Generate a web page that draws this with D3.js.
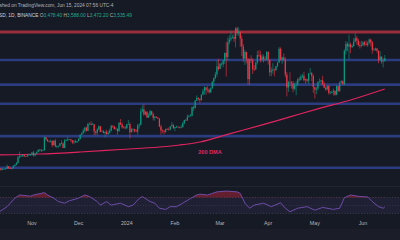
<!DOCTYPE html>
<html><head><meta charset="utf-8">
<script src="https://cdn.jsdelivr.net/npm/d3@7"></script>
<style>html,body{margin:0;padding:0;background:#161a25;overflow:hidden}svg{display:block}</style>
</head><body><svg id="c" width="400" height="240"></svg>
<script>
// ---- DATA (ETH/USDT daily, from 2023-10-11) ----
const startDate = "2023-10-11";
const firstOpen = 1580;
const closes = [
 1566,1539,1552,1555,1558,1600,1566,1564,1567,1605,1629,1662,1762,1785,1788,1805,1780,1777,1798,1810,1815,
 1847,1796,1832,1860,1893,1899,1885,1888,2121,2078,2052,2045,2055,1980,2058,1960,1962,1963,2012,2010,1930,2063,2063,2081,2083,2064,2029,2047,2028,2051,
 2088,2165,2193,2241,2292,2233,2358,2360,2343,2353,2225,2201,2260,2316,2219,2228,2196,2218,2177,2201,2240,2326,2311,2266,2272,2228,2378,2347,2299,2292,2281,
 2352,2356,2209,2267,2268,2240,2221,2331,2344,2584,2618,2525,2577,2472,2510,2587,2529,2468,2489,2471,2453,2311,2243,2236,2218,2268,2266,2258,2317,2343,2283,
 2304,2309,2297,2290,2299,2372,2427,2421,2485,2500,2507,2658,2642,2777,2824,2803,2786,2881,2944,3013,2966,2970,2922,2993,3112,3178,3243,3385,3340,
 3433,3422,3489,3627,3553,3817,3868,3897,3910,3878,4066,3980,4004,3882,3740,3524,3645,3520,3158,3516,3495,3334,3331,3454,3590,3587,3500,3561,3510,3508,3647,
 3504,3280,3310,3330,3320,3390,3454,3700,3505,3545,3505,3240,3010,3105,3100,3085,2985,3060,3060,3155,3147,3200,3220,3140,3155,3130,3255,3265,3215,3015,
 2970,2990,3105,3115,3137,3065,3005,2975,3035,2910,2913,2930,2950,2880,3035,2945,3095,3120,3070,3665,3790,3740,3780,3730,3750,3830,3890,3845,3765,3750,3760,
 3815,3780,3767,3810,3865,3812,3680,3683,3706,3665,3500,3560,3470,3478,3535
];
const highs = [
 1580,1568,1570,1565,1569,1633,1605,1586,1578,1622,1640,1680,1790,1865,1808,1815,1812,1790,1815,1824,1818,
 1860,1880,1835,1865,1910,1910,1908,1900,2133,2130,2090,2062,2080,2065,2070,2090,1980,1968,2015,2066,2030,2090,2088,2133,2093,2093,2070,2070,2077,2056,
 2108,2170,2208,2275,2307,2310,2380,2387,2403,2380,2355,2240,2284,2333,2320,2260,2246,2222,2256,2237,2275,2342,2330,2325,2298,2280,2393,2445,2386,2320,2322,
 2353,2432,2388,2293,2278,2275,2262,2358,2370,2643,2690,2717,2594,2580,2550,2614,2592,2560,2495,2493,2480,2462,2345,2260,2243,2275,2285,2295,2322,2393,2352,
 2308,2330,2320,2310,2340,2394,2433,2450,2530,2520,2537,2670,2688,2785,2867,2835,2812,2887,2985,3030,3014,3034,2995,3010,3125,3188,3288,3490,3520,
 3450,3455,3500,3630,3823,3900,3940,4015,3950,3965,4085,4093,4083,4010,3935,3780,3680,3615,3545,3526,3585,3535,3410,3470,3665,3675,3665,3610,3597,3565,3655,
 3650,3505,3365,3445,3345,3398,3465,3730,3725,3560,3615,3555,3285,3128,3280,3125,3125,3095,3125,3180,3200,3240,3255,3290,3170,3165,3270,3355,3285,3240,
 3025,3015,3125,3170,3145,3220,3110,3025,3055,3050,2945,2955,2990,2955,3045,3040,3120,3145,3135,3690,3840,3815,3950,3810,3780,3890,3977,3930,3880,3825,3845,
 3835,3840,3850,3832,3887,3880,3840,3718,3720,3710,3670,3660,3565,3525,3588
];
const lows = [
 1545,1521,1535,1544,1548,1555,1555,1553,1545,1560,1598,1620,1650,1745,1765,1765,1770,1770,1771,1784,1787,
 1790,1775,1778,1822,1852,1870,1855,1870,1882,2060,2035,2025,2028,1945,1975,1940,1930,1935,1958,1995,1930,1935,2050,2057,2075,2040,1997,2003,2022,2024,
 2048,2082,2160,2182,2201,2223,2230,2345,2336,2340,2160,2157,2154,2240,2208,2215,2190,2120,2166,2160,2184,2226,2284,2260,2260,2165,2222,2336,2275,2275,2266,
 2263,2345,2100,2205,2210,2205,2216,2165,2275,2330,2562,2505,2515,2470,2465,2498,2510,2420,2417,2463,2450,2300,2168,2196,2170,2200,2255,2240,2242,2315,2269,
 2228,2286,2290,2275,2282,2295,2347,2410,2416,2475,2490,2495,2590,2630,2770,2770,2728,2770,2870,2880,2880,2920,2900,2912,2980,3036,3160,3200,3310,
 3338,3400,3370,3430,3205,3490,3775,3830,3885,3820,3725,3940,3930,3735,3570,3470,3410,3440,3060,3050,3445,3250,3300,3325,3420,3550,3455,3472,3456,3490,3495,
 3420,3210,3210,3255,3210,3300,3375,3450,3490,3425,3480,3190,2850,2930,3030,2990,2920,2955,2870,3030,3115,3130,3175,3115,3075,3100,3075,3250,3120,2910,
 2815,2890,2960,3090,3070,3050,2995,2945,2960,2880,2900,2905,2865,2865,2870,2930,2935,3085,3055,3048,3605,3655,3510,3620,3715,3735,3815,3775,3740,3705,3725,
 3750,3745,3755,3730,3778,3745,3610,3663,3665,3630,3440,3475,3430,3365,3472
];
const resistanceLevels = [4000];
const supportLevels = [3500, 3060, 2720, 2140, 1575];
const dmaDay    = [0,   26,  52,  78,  103, 116, 129, 148, 168, 187, 206, 226, 248];
const dmaValues = [1804,1821,1857,1902,1946,1982,2036,2182,2332,2484,2636,2786,2982];
const rsiDay    = [0,5,10,13,20,22,29,31,35,38,42,45,51,55,58,63,65,69,72,78,83,86,90,92,97,100,103,107,110,114,118,123,127,129,134,137,140,146,153,155,158,161,164,170,175,181,184,187,192,198,203,208,215,219,222,226,232,237,240,244,247,248];
const rsiValues = [34,47,69,77,74,77,83,77,69,60,56,62,69,77,73,60,51,60,51,56,47,51,68,73,60,56,43,40,47,47,56,68,77,79,77,81,85,87,85,81,56,43,51,56,47,57,43,34,43,47,38,45,40,43,70,77,73,72,60,47,43,46];
const monthTicks  = ["2023-11-01","2023-12-01","2024-01-01","2024-02-01","2024-03-01","2024-04-01","2024-05-01","2024-06-01"];
const monthLabels = ["Nov","Dec","2024","Feb","Mar","Apr","May","Jun"];
const headerLine1 = "shed on TradingView.com, Jun 15, 2024 07:56 UTC-4";
const symbolText = "SD, 1D, BINANCE";
const ohlcLabels = ["O","H","L","C"];
const ohlcValues = ["3,478.40","3,588.00","3,472.20","3,535.49"];

// ---- DRAW ----
const W = 400, H = 240;
const svg = d3.select("#c");
const FONT = "'Liberation Sans', Arial, sans-serif";
svg.append("rect").attr("width", W).attr("height", H).attr("fill", "#161a25");
svg.append("rect").attr("y", 229).attr("width", W).attr("height", 11).attr("fill", "#1b1e29");

const parse = d3.utcParse("%Y-%m-%d");
const t0 = parse(startDate);
const x = d3.scaleUtc().domain([parse("2023-11-01"), parse("2024-06-01")]).range([32, 363]);
const y = d3.scaleLinear().domain([1000, 4500]).range([200, 4]);
const yR = d3.scaleLinear().domain([0, 100]).range([225, 186]);

const defs = svg.append("defs");
defs.append("clipPath").attr("id", "mainClip").append("rect").attr("x", 0).attr("y", 0).attr("width", W).attr("height", 186);
defs.append("clipPath").attr("id", "obClip").append("rect").attr("x", 0).attr("y", 180).attr("width", W).attr("height", yR(70) - 180);

const main = svg.append("g").attr("clip-path", "url(#mainClip)");

// horizontal levels
main.selectAll("line.sup").data(supportLevels).join("line").attr("class", "sup")
  .attr("x1", 0).attr("x2", W).attr("y1", d => y(d)).attr("y2", d => y(d))
  .attr("stroke", "#2b3c80").attr("stroke-width", 2.6);
main.selectAll("line.res").data(resistanceLevels).join("line").attr("class", "res")
  .attr("x1", 0).attr("x2", W).attr("y1", d => y(d)).attr("y2", d => y(d))
  .attr("stroke", "#9a2c3c").attr("stroke-width", 3);

// 200 DMA
const dmaPts = dmaDay.map((d, i) => [d3.utcDay.offset(t0, d), dmaValues[i]]);
main.append("path").datum(dmaPts)
  .attr("d", d3.line().x(d => x(d[0])).y(d => y(d[1])).curve(d3.curveMonotoneX))
  .attr("fill", "none").attr("stroke", "#e0245e").attr("stroke-width", 1.2);
main.append("text").attr("x", 210).attr("y", 154).attr("text-anchor", "middle")
  .attr("font-family", FONT).attr("font-size", 5.6).attr("font-weight", "bold")
  .attr("fill", "#e0245e").text("200 DMA");

// candles
const candles = closes.map((c, i) => ({
  date: d3.utcDay.offset(t0, i),
  open: i === 0 ? firstOpen : closes[i - 1],
  close: c, high: highs[i], low: lows[i]
}));
const up = "#089981", down = "#f23645";
const cg = main.append("g");
cg.selectAll("line").data(candles).join("line")
  .attr("x1", d => x(d.date)).attr("x2", d => x(d.date))
  .attr("y1", d => y(Math.max(d.high, d.open, d.close))).attr("y2", d => y(Math.min(d.low, d.open, d.close)))
  .attr("stroke", d => d.close >= d.open ? up : down).attr("stroke-width", 0.6);
cg.selectAll("rect").data(candles).join("rect")
  .attr("x", d => x(d.date) - 0.6).attr("width", 1.2)
  .attr("y", d => y(Math.max(d.open, d.close)))
  .attr("height", d => Math.max(0.6, Math.abs(y(d.open) - y(d.close))))
  .attr("fill", d => d.close >= d.open ? up : down);

// header
svg.append("text").attr("x", -0.5).attr("y", 6.8).attr("font-family", FONT).attr("font-size", 4.8)
  .attr("fill", "#b2b5be").text(headerLine1);
const h2 = svg.append("text").attr("x", -1).attr("y", 16.8).attr("font-family", FONT).attr("font-size", 4.8);
h2.append("tspan").attr("fill", "#d1d4dc").text(symbolText);
ohlcLabels.forEach((l, i) => {
  h2.append("tspan").attr("fill", "#b2b5be").text(" " + l);
  h2.append("tspan").attr("fill", "#22ab94").text(ohlcValues[i]);
});

// RSI pane
const rsi = svg.append("g");
rsi.append("line").attr("x1", 0).attr("x2", W).attr("y1", 186.5).attr("y2", 186.5).attr("stroke", "#222631").attr("stroke-width", 1);
rsi.append("rect").attr("x", 0).attr("width", W).attr("y", yR(70)).attr("height", yR(30) - yR(70))
  .attr("fill", "#7e57c2").attr("opacity", 0.1);
rsi.selectAll("line.lvl").data([70, 50, 30]).join("line").attr("class", "lvl")
  .attr("x1", 0).attr("x2", W).attr("y1", d => yR(d)).attr("y2", d => yR(d))
  .attr("stroke", "#787b86").attr("stroke-width", 0.6).attr("stroke-dasharray", "1.2,1.6")
  .attr("opacity", d => d === 50 ? 0.35 : 0.7);
const rsiPts = rsiDay.map((d, i) => [d3.utcDay.offset(t0, d), rsiValues[i]]);
rsi.append("path").datum(rsiPts).attr("clip-path", "url(#obClip)")
  .attr("d", d3.area().x(d => x(d[0])).y0(yR(70)).y1(d => yR(d[1])))
  .attr("fill", "#c2253f").attr("opacity", 0.45);
rsi.append("path").datum(rsiPts)
  .attr("d", d3.line().x(d => x(d[0])).y(d => yR(d[1])))
  .attr("fill", "none").attr("stroke", "#7e57c2").attr("stroke-width", 0.8);

// time axis labels
svg.selectAll("text.month").data(monthTicks).join("text").attr("class", "month")
  .attr("x", d => x(parse(d))).attr("y", 224.6).attr("text-anchor", "middle")
  .attr("font-family", FONT).attr("font-size", 5.3).attr("fill", "#b2b5be")
  .text((d, i) => monthLabels[i]);
</script>
</body></html>
